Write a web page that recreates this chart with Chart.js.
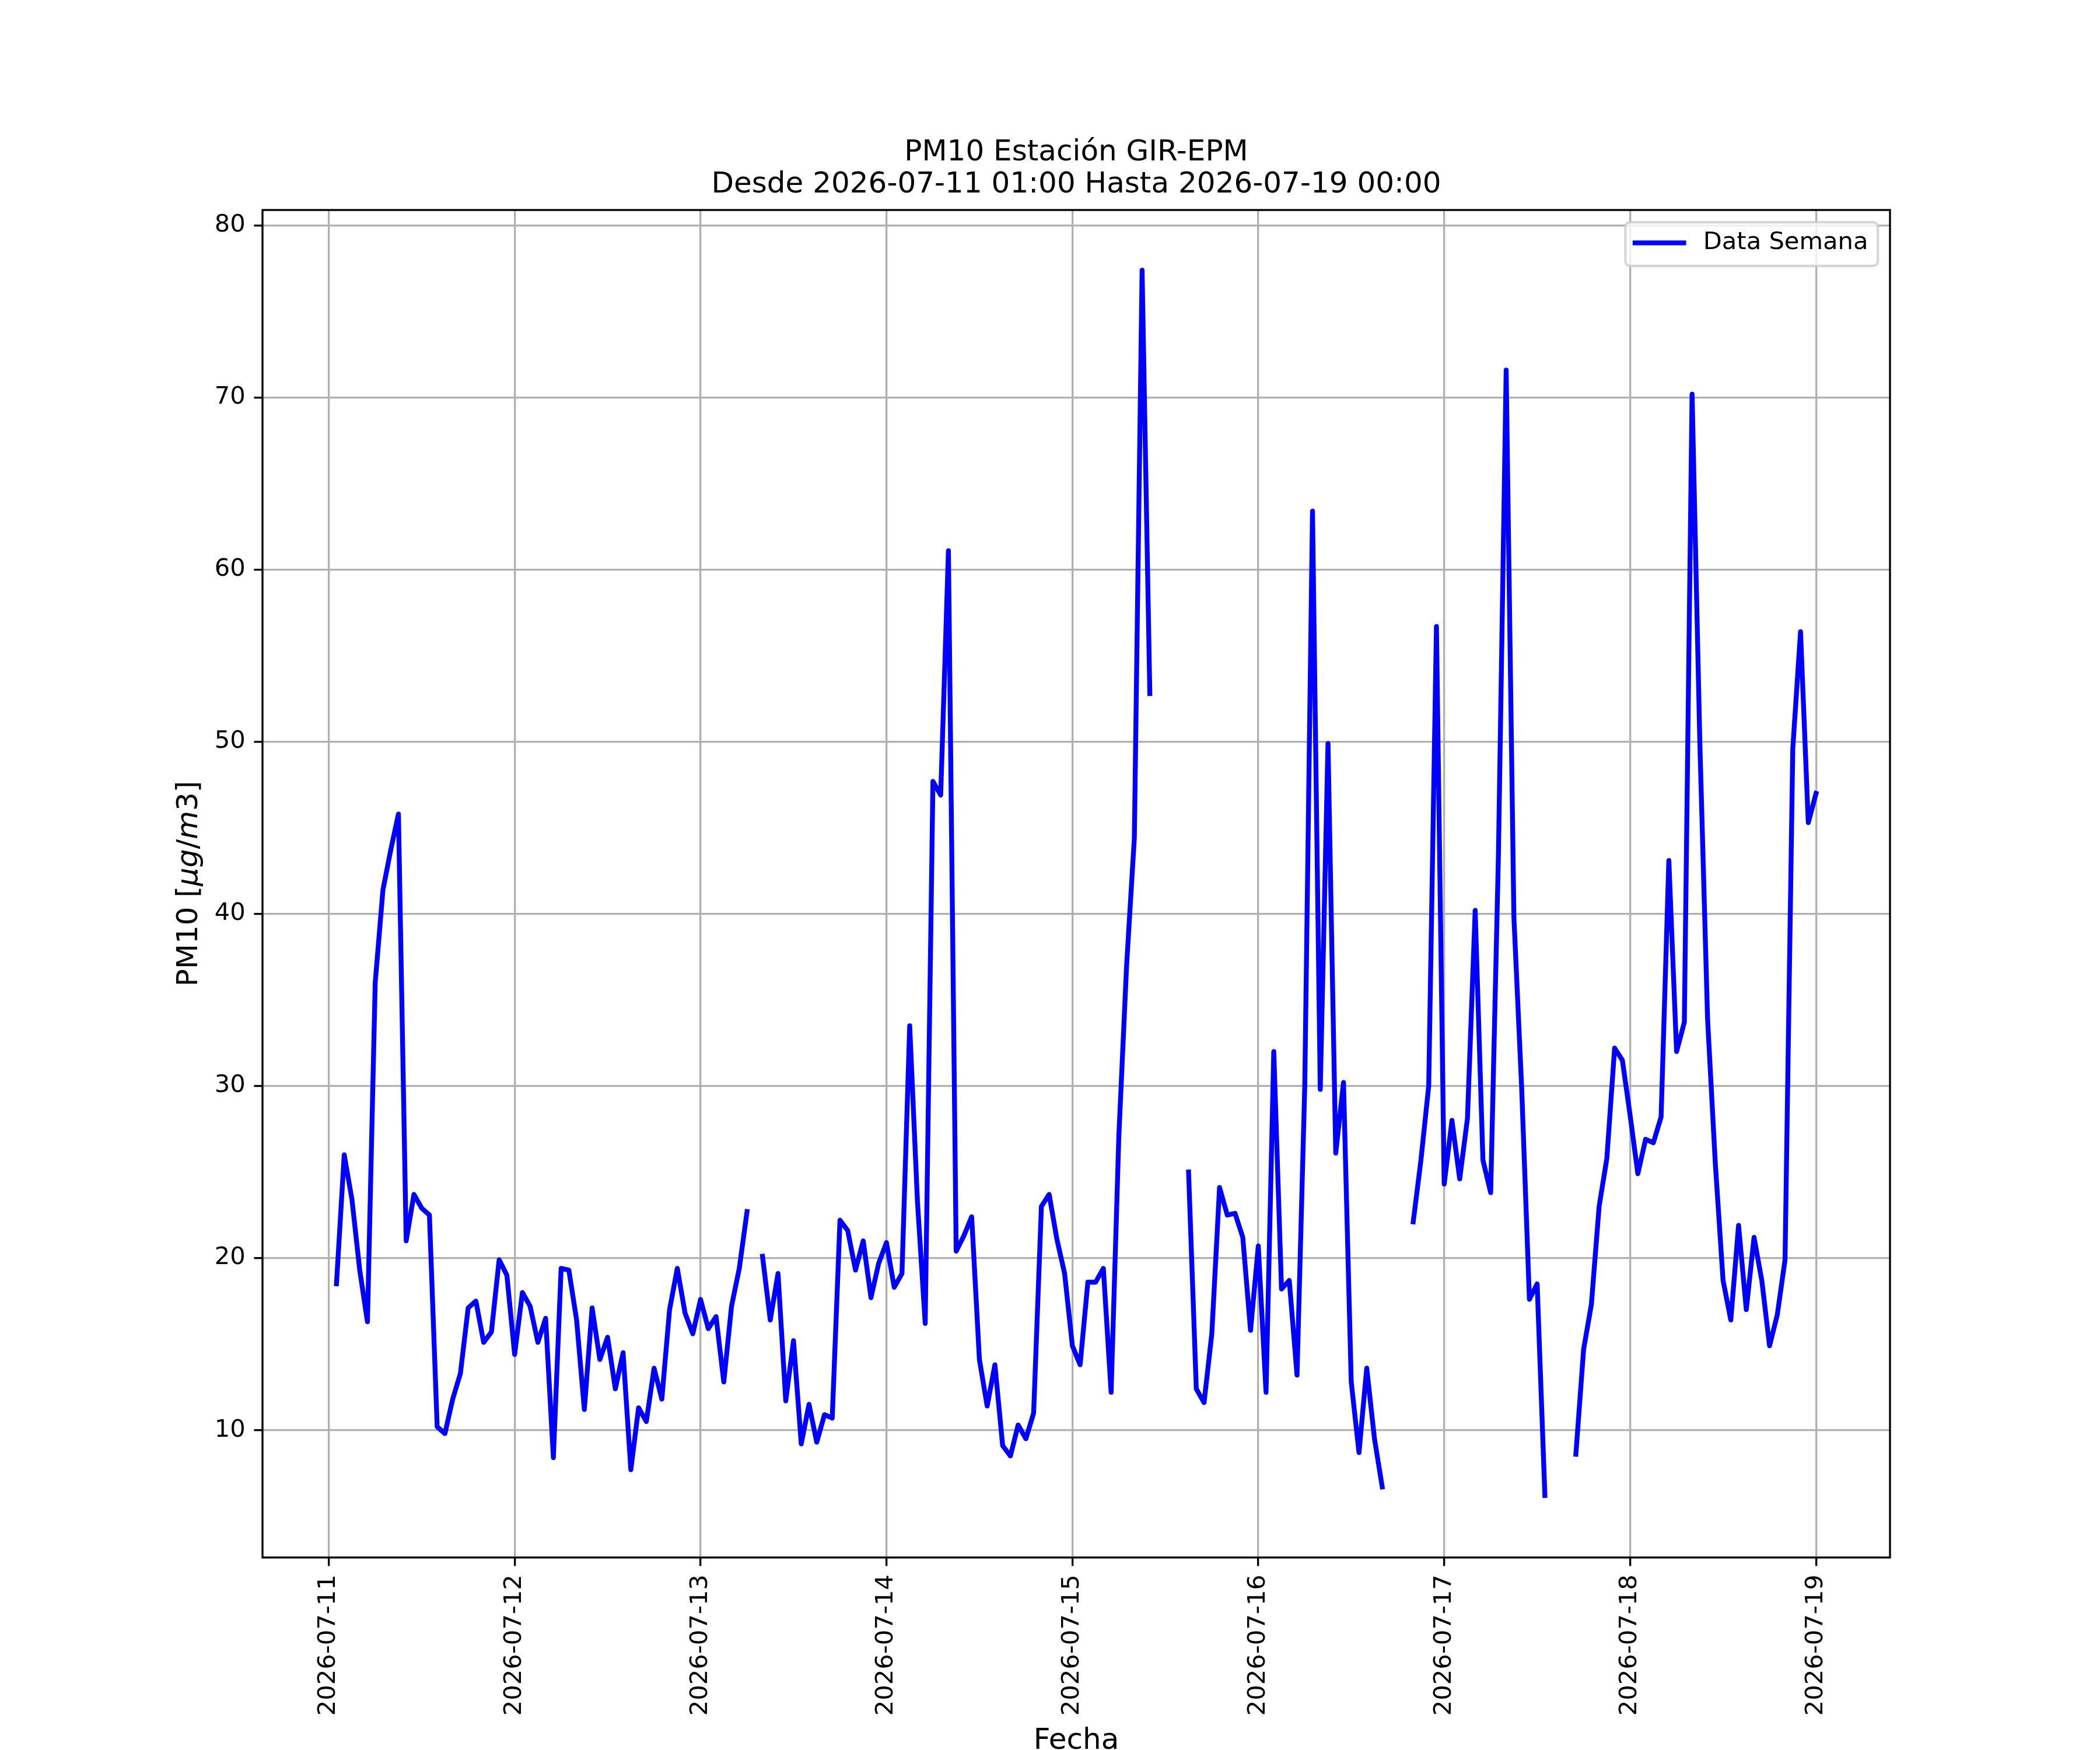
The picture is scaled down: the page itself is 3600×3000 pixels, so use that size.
<!DOCTYPE html>
<html>
<head>
<meta charset="utf-8">
<title>PM10 Estación GIR-EPM</title>
<script src="https://cdn.jsdelivr.net/npm/chart.js@4.4.1/dist/chart.umd.min.js"></script>
<style>
  html, body { margin: 0; padding: 0; background: #ffffff; }
  canvas { display: block; }
</style>
</head>
<body>
<canvas id="myChart" width="3600" height="3000"></canvas>
<script>
// hourly PM10 values, one array per day (01:00 .. 24:00), null = no reading
const day11 = [18.5, 26.0, 23.4, 19.3, 16.3, 36.0, 41.4, 43.7, 45.8, 21.0, 23.7, 22.9, 22.5, 10.2, 9.8, 11.8, 13.3, 17.1, 17.5, 15.1, 15.7, 19.9, 19.0, 14.4];
const day12 = [18.0, 17.2, 15.1, 16.5, 8.4, 19.4, 19.3, 16.4, 11.2, 17.1, 14.1, 15.4, 12.4, 14.5, 7.7, 11.3, 10.5, 13.6, 11.8, 17.0, 19.4, 16.8, 15.6, 17.6];
const day13 = [15.9, 16.6, 12.8, 17.2, 19.4, 22.7, null, 20.1, 16.4, 19.1, 11.7, 15.2, 9.2, 11.5, 9.3, 10.9, 10.7, 22.2, 21.6, 19.3, 21.0, 17.7, 19.7, 20.9];
const day14 = [18.3, 19.1, 33.5, 23.3, 16.2, 47.7, 46.9, 61.1, 20.4, 21.3, 22.4, 14.1, 11.4, 13.8, 9.1, 8.5, 10.3, 9.5, 11.0, 23.0, 23.7, 21.1, 19.1, 14.9];
const day15 = [13.8, 18.6, 18.6, 19.4, 12.2, 27.1, 37.0, 44.4, 77.4, 52.8, null, null, null, null, 25.0, 12.4, 11.6, 15.6, 24.1, 22.5, 22.6, 21.2, 15.8, 20.7];
const day16 = [12.2, 32.0, 18.2, 18.7, 13.2, 30.0, 63.4, 29.8, 49.9, 26.1, 30.2, 12.8, 8.7, 13.6, 9.5, 6.7, null, null, null, 22.1, 25.7, 30.0, 56.7, 24.3];
const day17 = [28.0, 24.6, 28.1, 40.2, 25.7, 23.8, 43.4, 71.6, 39.8, 29.9, 17.6, 18.5, 6.2, null, null, null, 8.6, 14.7, 17.3, 23.0, 25.8, 32.2, 31.5, 28.3];
const day18 = [24.9, 26.9, 26.7, 28.2, 43.1, 32.0, 33.7, 70.2, 50.0, 33.9, 25.5, 18.7, 16.4, 21.9, 17.0, 21.2, 18.7, 14.9, 16.7, 19.9, 49.6, 56.4, 45.3, 47.0];

// x axis is hours counted from 2026-07-11 00:00
const startHour = 1;
const tickHours = [0, 24, 48, 72, 96, 120, 144, 168, 192];
const tickLabels = ['2026-07-11', '2026-07-12', '2026-07-13', '2026-07-14', '2026-07-15',
                    '2026-07-16', '2026-07-17', '2026-07-18', '2026-07-19'];
const yTicks = [10, 20, 30, 40, 50, 60, 70, 80];

const titleLines = ['PM10 Estación GIR-EPM', 'Desde 2026-07-11 01:00 Hasta 2026-07-19 00:00'];
const seriesLabel = 'Data Semana';

const PT = 300 / 72;   // reference drawn at 300 dpi
const FONT = '"DejaVu Sans", "Liberation Sans", sans-serif';

const values = [].concat(day11, day12, day13, day14, day15, day16, day17, day18);
const points = values.map((v, i) => ({ x: startHour + i, y: v }));

Chart.defaults.font.family = FONT;
Chart.defaults.color = '#000000';

// spines, axis titles and the framed legend, matplotlib style
const framePlugin = {
  id: 'frame',
  afterDraw(chart) {
    const ctx = chart.ctx;
    const a = chart.chartArea;
    ctx.save();

    ctx.strokeStyle = '#000000';
    ctx.lineWidth = 0.8 * PT;
    ctx.strokeRect(a.left, a.top, a.right - a.left, a.bottom - a.top);

    ctx.fillStyle = '#000000';
    ctx.font = (12 * PT) + 'px ' + FONT;
    ctx.textAlign = 'center';
    ctx.textBaseline = 'alphabetic';
    ctx.fillText('Fecha', (a.left + a.right) / 2, a.bottom + 328);

    // y label with the math part in italics
    const parts = [['PM10 [', false], ['μg', true], ['/', false], ['m', true], ['3', false], [']', false]];
    const fs = 12 * PT;
    let total = 0;
    parts.forEach(p => {
      ctx.font = (p[1] ? 'italic ' : '') + fs + 'px ' + FONT;
      total += ctx.measureText(p[0]).width;
    });
    ctx.save();
    ctx.translate(a.left - 112, (a.top + a.bottom) / 2);
    ctx.rotate(-Math.PI / 2);
    ctx.textAlign = 'left';
    let px = -total / 2;
    parts.forEach(p => {
      ctx.font = (p[1] ? 'italic ' : '') + fs + 'px ' + FONT;
      ctx.fillText(p[0], px, 0);
      px += ctx.measureText(p[0]).width;
    });
    ctx.restore();

    // legend
    const lfs = 10 * PT;
    ctx.font = lfs + 'px ' + FONT;
    const textW = ctx.measureText(seriesLabel).width;
    const bp = 0.4 * lfs, hl = 2 * lfs, htp = 0.8 * lfs;
    const w = 2 * bp + hl + htp + textW;
    const h = 75;
    const right = a.right - 0.5 * lfs;
    const top = a.top + 0.5 * lfs;
    const left = right - w;
    ctx.beginPath();
    ctx.roundRect(left, top, w, h, 8);
    ctx.fillStyle = 'rgba(255,255,255,0.8)';
    ctx.fill();
    ctx.strokeStyle = 'rgba(204,204,204,0.8)';
    ctx.lineWidth = 1.0 * PT;
    ctx.stroke();

    const ds = chart.data.datasets[0];
    const cy = top + h / 2 - 2;
    ctx.beginPath();
    ctx.moveTo(left + bp, cy);
    ctx.lineTo(left + bp + hl, cy);
    ctx.strokeStyle = ds.borderColor;
    ctx.lineWidth = ds.borderWidth;
    ctx.lineCap = 'square';
    ctx.stroke();

    ctx.fillStyle = '#000000';
    ctx.textAlign = 'left';
    ctx.textBaseline = 'middle';
    ctx.fillText(ds.label, left + bp + hl + htp, cy);

    ctx.restore();
  }
};

const gridOpts = {
  color: '#b0b0b0',
  lineWidth: 0.8 * PT,
  tickLength: 3.5 * PT,
  tickColor: '#000000',
  tickWidth: 0.8 * PT
};

const config = {
  type: 'line',
  data: {
    datasets: [{
      label: seriesLabel,
      data: points,
      borderColor: '#0000ff',
      borderWidth: 2 * PT,
      pointRadius: 0,
      pointHoverRadius: 0,
      tension: 0,
      spanGaps: false,
      fill: false,
      borderCapStyle: 'square',
      borderJoinStyle: 'round'
    }]
  },
  options: {
    responsive: false,
    animation: false,
    devicePixelRatio: 1,
    layout: { padding: { top: 235, right: 360, bottom: 0, left: 0 } },
    plugins: {
      legend: { display: false },
      tooltip: { enabled: false },
      title: {
        display: true,
        fullSize: false,
        text: titleLines,
        color: '#000000',
        font: { family: FONT, size: 12 * PT, weight: 'normal', lineHeight: 1.1 },
        padding: { top: 0, bottom: 15 }
      }
    },
    scales: {
      x: {
        type: 'linear',
        min: -8.55,
        max: 201.55,
        afterBuildTicks: (scale) => { scale.ticks = tickHours.map(v => ({ value: v })); },
        afterFit: (scale) => { scale.height = 330; },
        ticks: {
          autoSkip: false,
          minRotation: 90,
          maxRotation: 90,
          padding: 3.5 * PT,
          color: '#000000',
          font: { family: FONT, size: 10 * PT },
          callback: (v) => tickLabels[tickHours.indexOf(v)]
        },
        grid: gridOpts,
        border: { display: false }
      },
      y: {
        type: 'linear',
        min: 2.6,
        max: 80.9,
        afterBuildTicks: (scale) => { scale.ticks = yTicks.map(v => ({ value: v })); },
        afterFit: (scale) => { scale.width = 450; },
        ticks: {
          padding: 3.5 * PT,
          color: '#000000',
          font: { family: FONT, size: 10 * PT },
          callback: (v) => String(v)
        },
        grid: gridOpts,
        border: { display: false }
      }
    }
  },
  plugins: [framePlugin]
};

const ctx = document.getElementById('myChart').getContext('2d');
const myChart = new Chart(ctx, config);
</script>
</body>
</html>
